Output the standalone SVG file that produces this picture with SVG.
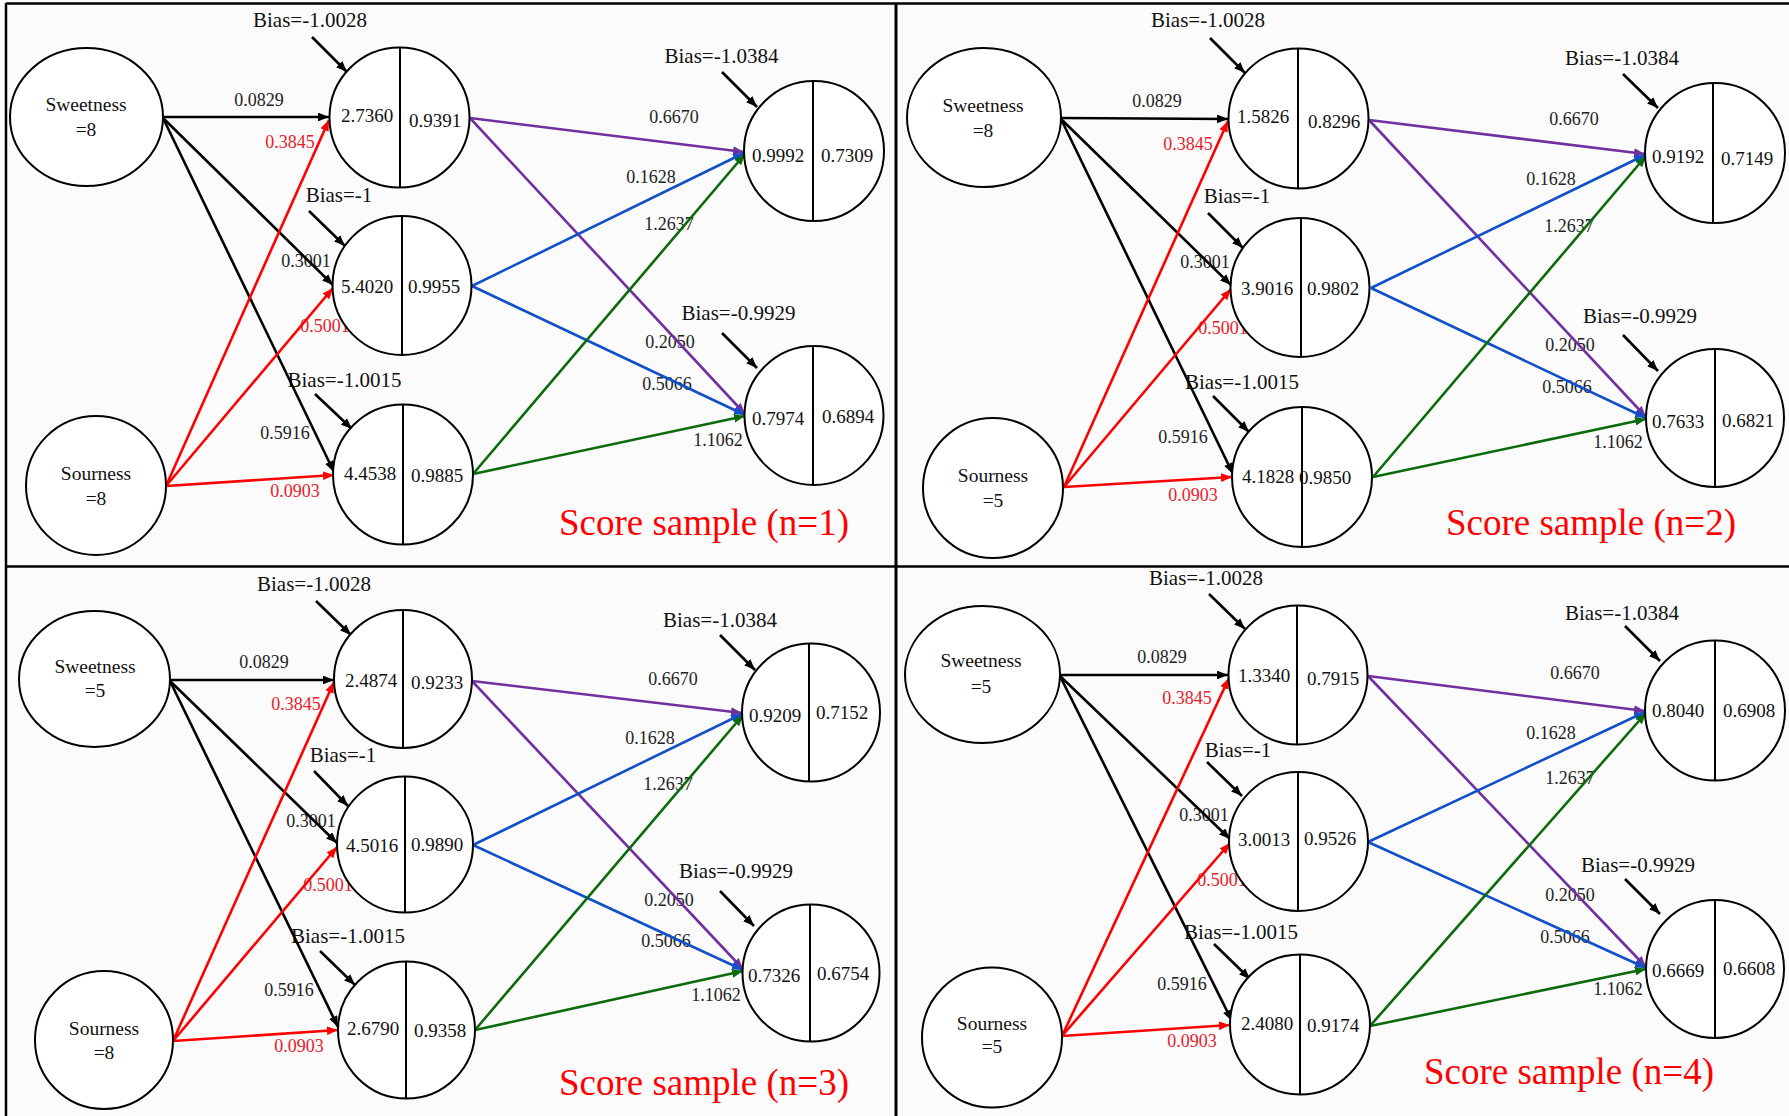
<svg xmlns="http://www.w3.org/2000/svg" width="1789" height="1116" viewBox="0 0 1789 1116">
<style>
.n{fill:#fff;stroke:#000;stroke-width:2}
.d{stroke:#000;stroke-width:2}
text{font-family:"Liberation Serif","Times New Roman",serif;text-anchor:middle}
.v{font-size:19px;fill:#111}
.in{font-size:19.5px;fill:#111}
.b{font-size:21px;fill:#111}
.w{font-size:18px;fill:#222}
.wr{font-size:18px;fill:#e8202a}
.t{font-size:37px;fill:#f00}
.e{fill:none;stroke-width:2.6}
.ek{stroke:#000;marker-end:url(#ak)}
.er{stroke:#f00;marker-end:url(#ar)}
.ep{stroke:#7030a0;marker-end:url(#ap)}
.eb{stroke:#1150c8;marker-end:url(#ab)}
.eg{stroke:#0b6b0b;marker-end:url(#ag)}
.fr{stroke:#000;fill:none}
</style>
<defs>
<marker id="ak" viewBox="0 0 10 8" refX="10" refY="4" markerWidth="11" markerHeight="8.8" markerUnits="userSpaceOnUse" orient="auto"><path d="M0,0L10,4L0,8z" fill="#000"/></marker>
<marker id="ar" viewBox="0 0 10 8" refX="10" refY="4" markerWidth="11" markerHeight="8.8" markerUnits="userSpaceOnUse" orient="auto"><path d="M0,0L10,4L0,8z" fill="#f00"/></marker>
<marker id="ap" viewBox="0 0 10 8" refX="10" refY="4" markerWidth="11" markerHeight="8.8" markerUnits="userSpaceOnUse" orient="auto"><path d="M0,0L10,4L0,8z" fill="#7030a0"/></marker>
<marker id="ab" viewBox="0 0 10 8" refX="10" refY="4" markerWidth="11" markerHeight="8.8" markerUnits="userSpaceOnUse" orient="auto"><path d="M0,0L10,4L0,8z" fill="#1150c8"/></marker>
<marker id="ag" viewBox="0 0 10 8" refX="10" refY="4" markerWidth="11" markerHeight="8.8" markerUnits="userSpaceOnUse" orient="auto"><path d="M0,0L10,4L0,8z" fill="#0b6b0b"/></marker>
</defs>
<rect x="0" y="0" width="1789" height="1116" fill="#fbfbfb"/>
<g id="frame">
<line class="fr" x1="6" y1="3.5" x2="1789" y2="3.5" stroke-width="2.5"/>
<line class="fr" x1="6" y1="3" x2="6" y2="1116" stroke-width="2.5"/>
<line class="fr" x1="896" y1="3" x2="896" y2="1116" stroke-width="3"/>
<line class="fr" x1="6" y1="566.5" x2="1789" y2="566.5" stroke-width="2.5"/>
</g>
<g id="labels">
<!-- Panel 1 -->
<text class="b" x="310" y="27">Bias=-1.0028</text>
<text class="b" x="339" y="202">Bias=-1</text>
<text class="b" x="344.5" y="387">Bias=-1.0015</text>
<text class="b" x="721.5" y="63">Bias=-1.0384</text>
<text class="b" x="738.5" y="320">Bias=-0.9929</text>
<text class="w" x="259" y="106">0.0829</text>
<text class="wr" x="290" y="148">0.3845</text>
<text class="w" x="306" y="267">0.3001</text>
<text class="wr" x="325" y="332">0.5001</text>
<text class="w" x="285" y="439">0.5916</text>
<text class="wr" x="295" y="497">0.0903</text>
<text class="w" x="674" y="123">0.6670</text>
<text class="w" x="651" y="183">0.1628</text>
<text class="w" x="669" y="230">1.2637</text>
<text class="w" x="670" y="348">0.2050</text>
<text class="w" x="667" y="390">0.5066</text>
<text class="w" x="718" y="446">1.1062</text>
<!-- Panel 2 -->
<text class="b" x="1208" y="27">Bias=-1.0028</text>
<text class="b" x="1237" y="203">Bias=-1</text>
<text class="b" x="1242" y="389">Bias=-1.0015</text>
<text class="b" x="1622" y="65">Bias=-1.0384</text>
<text class="b" x="1640" y="323">Bias=-0.9929</text>
<text class="w" x="1157" y="107">0.0829</text>
<text class="wr" x="1188" y="150">0.3845</text>
<text class="w" x="1205" y="268">0.3001</text>
<text class="wr" x="1223" y="334">0.5001</text>
<text class="w" x="1183" y="443">0.5916</text>
<text class="wr" x="1193" y="501">0.0903</text>
<text class="w" x="1574" y="125">0.6670</text>
<text class="w" x="1551" y="185">0.1628</text>
<text class="w" x="1569" y="232">1.2637</text>
<text class="w" x="1570" y="351">0.2050</text>
<text class="w" x="1567" y="393">0.5066</text>
<text class="w" x="1618" y="448">1.1062</text>
<!-- Panel 3 -->
<text class="b" x="314" y="591">Bias=-1.0028</text>
<text class="b" x="343" y="762">Bias=-1</text>
<text class="b" x="348" y="943">Bias=-1.0015</text>
<text class="b" x="720" y="627">Bias=-1.0384</text>
<text class="b" x="736" y="878">Bias=-0.9929</text>
<text class="w" x="264" y="668">0.0829</text>
<text class="wr" x="296" y="710">0.3845</text>
<text class="w" x="311" y="827">0.3001</text>
<text class="wr" x="328" y="891">0.5001</text>
<text class="w" x="289" y="996">0.5916</text>
<text class="wr" x="299" y="1052">0.0903</text>
<text class="w" x="673" y="685">0.6670</text>
<text class="w" x="650" y="744">0.1628</text>
<text class="w" x="668" y="790">1.2637</text>
<text class="w" x="669" y="906">0.2050</text>
<text class="w" x="666" y="947">0.5066</text>
<text class="w" x="716" y="1001">1.1062</text>
<!-- Panel 4 -->
<text class="b" x="1206" y="585">Bias=-1.0028</text>
<text class="b" x="1238" y="757">Bias=-1</text>
<text class="b" x="1241" y="939">Bias=-1.0015</text>
<text class="b" x="1622" y="620">Bias=-1.0384</text>
<text class="b" x="1638" y="872">Bias=-0.9929</text>
<text class="w" x="1162" y="663">0.0829</text>
<text class="wr" x="1187" y="704">0.3845</text>
<text class="w" x="1204" y="821">0.3001</text>
<text class="wr" x="1222" y="886">0.5001</text>
<text class="w" x="1182" y="990">0.5916</text>
<text class="wr" x="1192" y="1047">0.0903</text>
<text class="w" x="1575" y="679">0.6670</text>
<text class="w" x="1551" y="739">0.1628</text>
<text class="w" x="1570" y="784">1.2637</text>
<text class="w" x="1570" y="901">0.2050</text>
<text class="w" x="1565" y="943">0.5066</text>
<text class="w" x="1618" y="995">1.1062</text>
</g>
<g id="connectors" class="e">
<!-- Panel 1 -->
<line class="e ek" x1="312" y1="37" x2="347" y2="72"/>
<line class="e ek" x1="309" y1="211" x2="345" y2="246"/>
<line class="e ek" x1="315" y1="394" x2="352" y2="429"/>
<line class="e ek" x1="722" y1="72" x2="757" y2="107"/>
<line class="e ek" x1="722" y1="333" x2="757" y2="368"/>
<line class="e ek" x1="163" y1="117" x2="329" y2="117"/>
<line class="e ek" x1="163" y1="118" x2="333" y2="285"/>
<line class="e ek" x1="163" y1="118" x2="334" y2="472"/>
<line class="e er" x1="166" y1="486" x2="329" y2="120"/>
<line class="e er" x1="166" y1="486" x2="333" y2="288"/>
<line class="e er" x1="166" y1="486" x2="334" y2="475"/>
<line class="e ep" x1="470" y1="118" x2="744" y2="152"/>
<line class="e ep" x1="470" y1="118" x2="745" y2="414"/>
<line class="e eb" x1="472" y1="286" x2="744" y2="153"/>
<line class="e eb" x1="472" y1="286" x2="745" y2="415"/>
<line class="e eg" x1="473" y1="474" x2="745" y2="154"/>
<line class="e eg" x1="473" y1="474" x2="745" y2="416"/>
<!-- Panel 2 -->
<line class="e ek" x1="1210" y1="38" x2="1245" y2="73"/>
<line class="e ek" x1="1208" y1="213" x2="1243" y2="248"/>
<line class="e ek" x1="1213" y1="396" x2="1249" y2="432"/>
<line class="e ek" x1="1623" y1="74" x2="1658" y2="108"/>
<line class="e ek" x1="1623" y1="335" x2="1658" y2="371"/>
<line class="e ek" x1="1061" y1="118" x2="1228" y2="119"/>
<line class="e ek" x1="1061" y1="119" x2="1231" y2="285"/>
<line class="e ek" x1="1061" y1="119" x2="1233" y2="474"/>
<line class="e er" x1="1064" y1="487" x2="1228" y2="121"/>
<line class="e er" x1="1064" y1="487" x2="1231" y2="289"/>
<line class="e er" x1="1064" y1="487" x2="1232" y2="477"/>
<line class="e ep" x1="1369" y1="120" x2="1645" y2="154"/>
<line class="e ep" x1="1369" y1="120" x2="1646" y2="417"/>
<line class="e eb" x1="1371" y1="288" x2="1645" y2="155"/>
<line class="e eb" x1="1371" y1="288" x2="1646" y2="418"/>
<line class="e eg" x1="1373" y1="477" x2="1646" y2="156"/>
<line class="e eg" x1="1373" y1="477" x2="1646" y2="419"/>
<!-- Panel 3 -->
<line class="e ek" x1="316" y1="601" x2="351" y2="635"/>
<line class="e ek" x1="314" y1="771" x2="348" y2="806"/>
<line class="e ek" x1="320" y1="951" x2="355" y2="985"/>
<line class="e ek" x1="720" y1="635" x2="755" y2="670"/>
<line class="e ek" x1="720" y1="891" x2="754" y2="926"/>
<line class="e ek" x1="170" y1="680" x2="334" y2="680"/>
<line class="e ek" x1="170" y1="681" x2="337" y2="843"/>
<line class="e ek" x1="170" y1="681" x2="338" y2="1027"/>
<line class="e er" x1="173" y1="1041" x2="334" y2="682"/>
<line class="e er" x1="173" y1="1041" x2="337" y2="847"/>
<line class="e er" x1="173" y1="1041" x2="338" y2="1030"/>
<line class="e ep" x1="472" y1="681" x2="742" y2="713"/>
<line class="e ep" x1="472" y1="681" x2="743" y2="969"/>
<line class="e eb" x1="473" y1="845" x2="742" y2="714"/>
<line class="e eb" x1="473" y1="845" x2="743" y2="970"/>
<line class="e eg" x1="475" y1="1030" x2="743" y2="715"/>
<line class="e eg" x1="475" y1="1030" x2="743" y2="971"/>
<!-- Panel 4 -->
<line class="e ek" x1="1209" y1="594" x2="1245" y2="629"/>
<line class="e ek" x1="1207" y1="762" x2="1242" y2="796"/>
<line class="e ek" x1="1214" y1="944" x2="1250" y2="979"/>
<line class="e ek" x1="1625" y1="626" x2="1660" y2="661"/>
<line class="e ek" x1="1625" y1="879" x2="1660" y2="914"/>
<line class="e ek" x1="1060" y1="675" x2="1228" y2="675"/>
<line class="e ek" x1="1060" y1="676" x2="1230" y2="839"/>
<line class="e ek" x1="1060" y1="676" x2="1232" y2="1021"/>
<line class="e er" x1="1062" y1="1036" x2="1229" y2="678"/>
<line class="e er" x1="1062" y1="1036" x2="1230" y2="843"/>
<line class="e er" x1="1062" y1="1036" x2="1230" y2="1025"/>
<line class="e ep" x1="1368" y1="676" x2="1645" y2="711"/>
<line class="e ep" x1="1368" y1="676" x2="1646" y2="967"/>
<line class="e eb" x1="1368" y1="842" x2="1645" y2="712"/>
<line class="e eb" x1="1368" y1="842" x2="1646" y2="968"/>
<line class="e eg" x1="1370" y1="1026" x2="1646" y2="713"/>
<line class="e eg" x1="1370" y1="1026" x2="1646" y2="969"/>
</g>
<!-- Panel 1 nodes -->
<g id="p1-sweetness"><ellipse class="n" cx="86.5" cy="117" rx="76.5" ry="69"/><text class="in" x="86" y="111">Sweetness</text><text class="in" x="86" y="136">=8</text></g>
<g id="p1-sourness"><ellipse class="n" cx="96" cy="485.5" rx="70" ry="69.5"/><text class="in" x="96" y="480">Sourness</text><text class="in" x="96" y="505">=8</text></g>
<g id="p1-h1"><circle class="n" cx="399.5" cy="117.5" r="70"/><line class="d" x1="400" y1="47.5" x2="400" y2="187.5"/><text class="v" x="367" y="122">2.7360</text><text class="v" x="435" y="127">0.9391</text></g>
<g id="p1-h2"><circle class="n" cx="402" cy="285.5" r="69.5"/><line class="d" x1="402" y1="216" x2="402" y2="355"/><text class="v" x="367" y="293">5.4020</text><text class="v" x="434" y="293">0.9955</text></g>
<g id="p1-h3"><circle class="n" cx="403" cy="474.5" r="70"/><line class="d" x1="403" y1="404.5" x2="403" y2="544.5"/><text class="v" x="370" y="480">4.4538</text><text class="v" x="437" y="482">0.9885</text></g>
<g id="p1-o1"><circle class="n" cx="814" cy="151" r="70"/><line class="d" x1="813" y1="81" x2="813" y2="221"/><text class="v" x="778" y="162">0.9992</text><text class="v" x="847" y="162">0.7309</text></g>
<g id="p1-o2"><circle class="n" cx="814" cy="415.5" r="69.5"/><line class="d" x1="813" y1="346" x2="813" y2="485"/><text class="v" x="778" y="425">0.7974</text><text class="v" x="848" y="423">0.6894</text></g>
<text class="t" x="704" y="535">Score sample (n=1)</text>
<!-- Panel 2 nodes -->
<g id="p2-sweetness"><ellipse class="n" cx="984" cy="117.5" rx="77" ry="69.5"/><text class="in" x="983" y="112">Sweetness</text><text class="in" x="983" y="137">=8</text></g>
<g id="p2-sourness"><circle class="n" cx="993" cy="488" r="70"/><text class="in" x="993" y="482">Sourness</text><text class="in" x="993" y="507">=5</text></g>
<g id="p2-h1"><circle class="n" cx="1298.5" cy="118.5" r="70"/><line class="d" x1="1298" y1="48.5" x2="1298" y2="188.5"/><text class="v" x="1263" y="123">1.5826</text><text class="v" x="1334" y="128">0.8296</text></g>
<g id="p2-h2"><circle class="n" cx="1300" cy="287.5" r="69.5"/><line class="d" x1="1301" y1="218" x2="1301" y2="357"/><text class="v" x="1267" y="295">3.9016</text><text class="v" x="1333" y="295">0.9802</text></g>
<g id="p2-h3"><circle class="n" cx="1302" cy="477" r="70"/><line class="d" x1="1302" y1="407" x2="1302" y2="547"/><text class="v" x="1268" y="483">4.1828</text><text class="v" x="1325" y="484">0.9850</text></g>
<g id="p2-o1"><circle class="n" cx="1715" cy="153" r="70"/><line class="d" x1="1713" y1="83" x2="1713" y2="223"/><text class="v" x="1678" y="163">0.9192</text><text class="v" x="1747" y="165">0.7149</text></g>
<g id="p2-o2"><circle class="n" cx="1715" cy="418" r="69"/><line class="d" x1="1715" y1="349" x2="1715" y2="487"/><text class="v" x="1678" y="428">0.7633</text><text class="v" x="1748" y="427">0.6821</text></g>
<text class="t" x="1591" y="535">Score sample (n=2)</text>
<!-- Panel 3 nodes -->
<g id="p3-sweetness"><ellipse class="n" cx="94.5" cy="679" rx="75.5" ry="68"/><text class="in" x="95" y="673">Sweetness</text><text class="in" x="95" y="697">=5</text></g>
<g id="p3-sourness"><circle class="n" cx="104" cy="1040" r="69"/><text class="in" x="104" y="1035">Sourness</text><text class="in" x="104" y="1059">=8</text></g>
<g id="p3-h1"><circle class="n" cx="403" cy="679" r="69"/><line class="d" x1="403" y1="610" x2="403" y2="748"/><text class="v" x="371" y="687">2.4874</text><text class="v" x="437" y="689">0.9233</text></g>
<g id="p3-h2"><circle class="n" cx="405" cy="844.5" r="68"/><line class="d" x1="405" y1="776.5" x2="405" y2="912.5"/><text class="v" x="372" y="852">4.5016</text><text class="v" x="437" y="851">0.9890</text></g>
<g id="p3-h3"><circle class="n" cx="406.5" cy="1030" r="68.5"/><line class="d" x1="406" y1="961.5" x2="406" y2="1098.5"/><text class="v" x="373" y="1035">2.6790</text><text class="v" x="440" y="1037">0.9358</text></g>
<g id="p3-o1"><circle class="n" cx="811" cy="712.5" r="69"/><line class="d" x1="809" y1="643.5" x2="809" y2="781.5"/><text class="v" x="775" y="722">0.9209</text><text class="v" x="842" y="719">0.7152</text></g>
<g id="p3-o2"><circle class="n" cx="811" cy="973" r="68.5"/><line class="d" x1="810" y1="904.5" x2="810" y2="1041.5"/><text class="v" x="774" y="982">0.7326</text><text class="v" x="843" y="980">0.6754</text></g>
<text class="t" x="704" y="1095">Score sample (n=3)</text>
<!-- Panel 4 nodes -->
<g id="p4-sweetness"><ellipse class="n" cx="982.5" cy="674.5" rx="77.5" ry="68.5"/><text class="in" x="981" y="667">Sweetness</text><text class="in" x="981" y="693">=5</text></g>
<g id="p4-sourness"><circle class="n" cx="992" cy="1037.5" r="70"/><text class="in" x="992" y="1030">Sourness</text><text class="in" x="992" y="1053">=5</text></g>
<g id="p4-h1"><circle class="n" cx="1298" cy="675" r="69.5"/><line class="d" x1="1297" y1="605.5" x2="1297" y2="744.5"/><text class="v" x="1264" y="682">1.3340</text><text class="v" x="1333" y="685">0.7915</text></g>
<g id="p4-h2"><circle class="n" cx="1298.5" cy="841.5" r="69.5"/><line class="d" x1="1298" y1="772" x2="1298" y2="911"/><text class="v" x="1264" y="846">3.0013</text><text class="v" x="1330" y="845">0.9526</text></g>
<g id="p4-h3"><circle class="n" cx="1300" cy="1024.5" r="70"/><line class="d" x1="1300" y1="954.5" x2="1300" y2="1094.5"/><text class="v" x="1267" y="1030">2.4080</text><text class="v" x="1333" y="1032">0.9174</text></g>
<g id="p4-o1"><circle class="n" cx="1715" cy="710.5" r="70"/><line class="d" x1="1715" y1="640.5" x2="1715" y2="780.5"/><text class="v" x="1678" y="717">0.8040</text><text class="v" x="1749" y="717">0.6908</text></g>
<g id="p4-o2"><circle class="n" cx="1715" cy="969" r="69"/><line class="d" x1="1715" y1="900" x2="1715" y2="1038"/><text class="v" x="1678" y="977">0.6669</text><text class="v" x="1749" y="975">0.6608</text></g>
<text class="t" x="1569" y="1084">Score sample (n=4)</text>
</svg>
